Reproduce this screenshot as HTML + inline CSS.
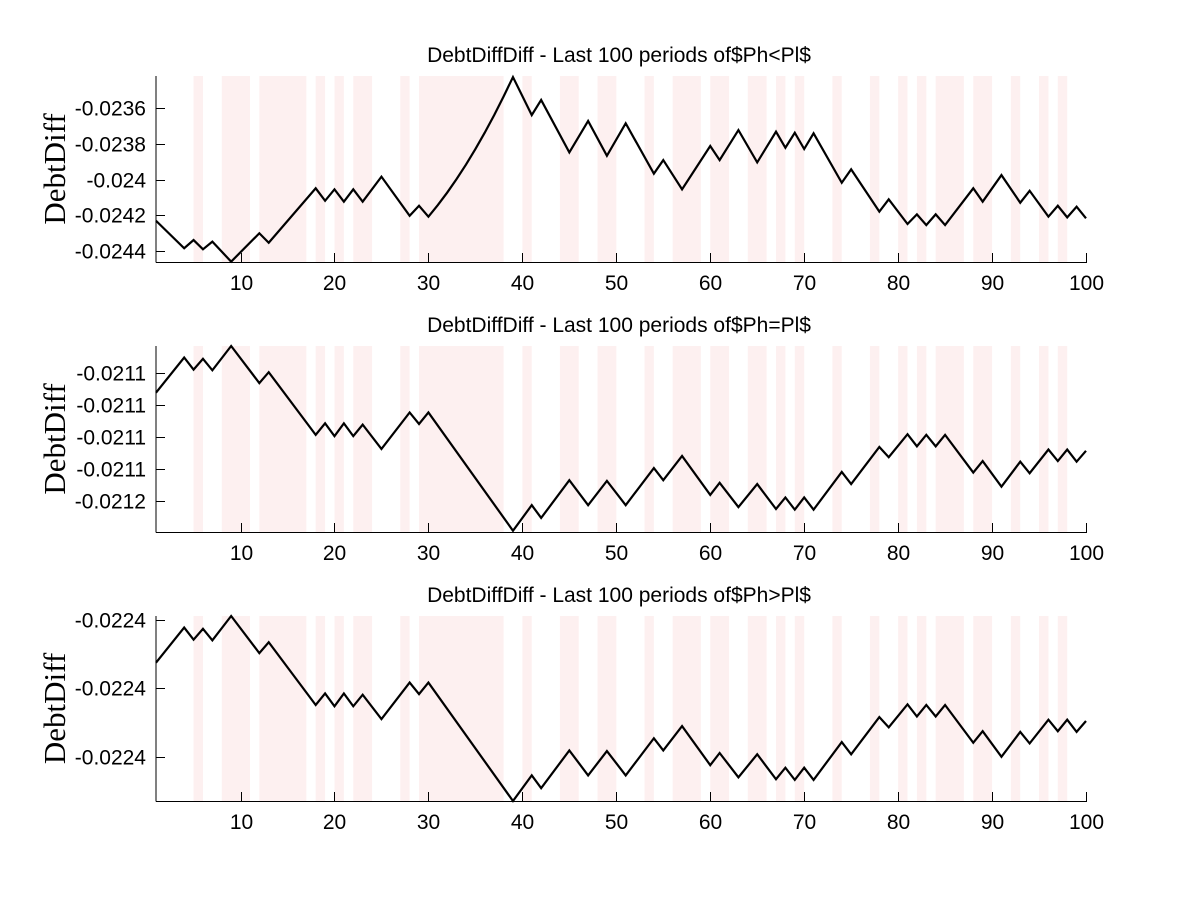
<!DOCTYPE html>
<html><head><meta charset="utf-8"><style>
html,body{margin:0;padding:0;background:#fff;}
svg{display:block;}
</style></head><body>
<svg id="chart" width="1200" height="900" viewBox="0 0 1200 900" xmlns="http://www.w3.org/2000/svg"></svg>
<script>
// Shaded band intervals (periods)
const bandStarts = [5,8,12,18,20,22,27,29,40,44,48,53,56,60,64,67,69,73,77,80,82,84,88,92,95,97];
const bandEnds   = [6,11,17,19,21,24,28,38,41,46,50,54,59,62,66,68,70,74,78,81,83,87,90,93,96,98];
const xTicks = [10,20,30,40,50,60,70,80,90,100];

// Top panel (Ph<Pl)
const topPeriods = [1,4,5,6,7,9,12,13,18,19,20,21,22,23,25,28,29,30,31,32,33,34,35,36,37,38,39,41,42,45,47,49,51,54,55,57,60,61,63,65,67,68,69,70,71,74,75,78,79,81,82,83,84,85,88,89,91,93,94,96,97,98,99,100];
const topValues = [-0.024230,-0.024384,-0.024338,-0.024390,-0.024347,-0.024459,-0.024300,-0.024353,-0.024048,-0.024118,-0.024054,-0.024123,-0.024054,-0.024123,-0.023983,-0.024202,-0.024146,-0.024207,-0.024142,-0.024072,-0.023996,-0.023915,-0.023828,-0.023736,-0.023638,-0.023534,-0.023425,-0.023638,-0.023553,-0.023847,-0.023671,-0.023866,-0.023684,-0.023966,-0.023890,-0.024054,-0.023811,-0.023890,-0.023722,-0.023903,-0.023731,-0.023821,-0.023737,-0.023828,-0.023740,-0.024017,-0.023942,-0.024179,-0.024110,-0.024248,-0.024194,-0.024254,-0.024194,-0.024254,-0.024048,-0.024123,-0.023974,-0.024129,-0.024062,-0.024207,-0.024146,-0.024211,-0.024151,-0.024216];
const topTickVals = [-0.0236,-0.0238,-0.0240,-0.0242,-0.0244];
const topTickLabels = ["-0.0236","-0.0238","-0.024","-0.0242","-0.0244"];

// Middle panel (Ph=Pl)
const midPeriods = [1,4,5,6,7,9,12,13,18,19,20,21,22,23,25,28,29,30,39,41,42,45,47,49,51,54,55,57,60,61,63,65,67,68,69,70,71,74,75,78,79,81,82,83,84,85,88,89,91,93,94,96,97,98,99,100];
const midValues = [-0.0211030,-0.0210975,-0.0210994,-0.0210977,-0.0210995,-0.0210957,-0.0211015,-0.0210998,-0.0211096,-0.0211078,-0.0211098,-0.0211078,-0.0211098,-0.0211080,-0.0211118,-0.0211061,-0.0211079,-0.0211061,-0.0211246,-0.0211206,-0.0211226,-0.0211167,-0.0211206,-0.0211168,-0.0211206,-0.0211148,-0.0211167,-0.0211129,-0.0211190,-0.0211171,-0.0211209,-0.0211173,-0.0211212,-0.0211194,-0.0211213,-0.0211194,-0.0211213,-0.0211154,-0.0211173,-0.0211115,-0.0211131,-0.0211095,-0.0211114,-0.0211096,-0.0211114,-0.0211096,-0.0211155,-0.0211137,-0.0211177,-0.0211138,-0.0211156,-0.0211119,-0.0211137,-0.0211119,-0.0211138,-0.0211121];
const midTickVals = [-0.021100,-0.021105,-0.021110,-0.021115,-0.021120];
const midTickLabels = ["-0.0211","-0.0211","-0.0211","-0.0211","-0.0212"];

// Bottom panel (Ph>Pl)
const botPeriods = [1,4,5,6,7,9,12,13,18,19,20,21,22,23,25,28,29,30,39,41,42,45,47,49,51,54,55,57,60,61,63,65,67,68,69,70,71,74,75,78,79,81,82,83,84,85,88,89,91,93,94,96,97,98,99,100];
const botValues = [-0.0224030,-0.0223975,-0.0223994,-0.0223977,-0.0223995,-0.0223957,-0.0224015,-0.0223998,-0.0224096,-0.0224078,-0.0224098,-0.0224078,-0.0224098,-0.0224080,-0.0224118,-0.0224061,-0.0224079,-0.0224061,-0.0224246,-0.0224206,-0.0224226,-0.0224167,-0.0224206,-0.0224168,-0.0224206,-0.0224148,-0.0224167,-0.0224129,-0.0224190,-0.0224171,-0.0224209,-0.0224173,-0.0224212,-0.0224194,-0.0224213,-0.0224194,-0.0224213,-0.0224154,-0.0224173,-0.0224115,-0.0224131,-0.0224095,-0.0224114,-0.0224096,-0.0224114,-0.0224096,-0.0224155,-0.0224137,-0.0224177,-0.0224138,-0.0224156,-0.0224119,-0.0224137,-0.0224119,-0.0224138,-0.0224121];
const botTickVals = [-0.0223963,-0.0224070,-0.0224178];
const botTickLabels = ["-0.0224","-0.0224","-0.0224"];

const NS = "http://www.w3.org/2000/svg";
const svg = document.getElementById('chart');
function mk(tag, attrs, parent){
  const e = document.createElementNS(NS, tag);
  for (const k in attrs) e.setAttribute(k, attrs[k]);
  (parent||svg).appendChild(e);
  return e;
}
const X0 = 156, X1 = 1086;
function xScale(p){ return X0 + (p-1)/(99)*(X1-X0); }
const SANS = 'Liberation Sans, Arial, sans-serif';

const panels = [
  {name:'top', title:'DebtDiffDiff - Last 100 periods of$Ph<Pl$', top:76, bottom:262, ymax:-0.023419, ymin:-0.024461, periods:topPeriods, values:topValues, tv:topTickVals, tl:topTickLabels},
  {name:'middle', title:'DebtDiffDiff - Last 100 periods of$Ph=Pl$', top:346, bottom:532, ymax:-0.0210957, ymin:-0.0211248, periods:midPeriods, values:midValues, tv:midTickVals, tl:midTickLabels},
  {name:'bottom', title:'DebtDiffDiff - Last 100 periods of$Ph>Pl$', top:616, bottom:801, ymax:-0.0223957, ymin:-0.0224246, periods:botPeriods, values:botValues, tv:botTickVals, tl:botTickLabels}
];

panels.forEach(P => {
  const g = mk('g', {});
  
  
  const yScale = v => P.bottom - (v - P.ymin)/(P.ymax - P.ymin)*(P.bottom - P.top);
  for (let i=0;i<bandStarts.length;i++){
    const r = mk('rect', {x:xScale(bandStarts[i]), y:P.top, width:xScale(bandEnds[i])-xScale(bandStarts[i]), height:P.bottom-P.top, fill:'#fdf0f0'}, g);
    
    
  }
  const pts = P.periods.map((p,i)=> xScale(p).toFixed(2)+','+yScale(P.values[i]).toFixed(2)).join(' ');
  const line = mk('polyline', {points:pts, fill:'none', stroke:'#000', 'stroke-width':2.2, 'stroke-linejoin':'miter'}, g);
  
  
  const ya = mk('line', {x1:X0, y1:P.top, x2:X0, y2:P.bottom+0.5, stroke:'#000', 'stroke-width':1}, g);
  
  
  const xa = mk('line', {x1:X0, y1:P.bottom+0.5, x2:X1+1, y2:P.bottom+0.5, stroke:'#000', 'stroke-width':1}, g);
  
  
  P.tv.forEach((v,i)=>{
    const y = Math.round(yScale(v))+0.5;
    const t = mk('line', {x1:X0, y1:y, x2:X0+9, y2:y, stroke:'#000', 'stroke-width':1}, g);
    
    
    const l = mk('text', {x:146, y:y+7, 'text-anchor':'end', 'font-family':SANS, 'font-size':21, fill:'#000'}, g);
    l.textContent = P.tl[i];
    
    
  });
  xTicks.forEach(v=>{
    const x = Math.round(xScale(v))+0.5;
    const t = mk('line', {x1:x, y1:P.bottom, x2:x, y2:P.bottom-9, stroke:'#000', 'stroke-width':1}, g);
    
    
    const l = mk('text', {x:x, y:P.bottom+28, 'text-anchor':'middle', 'font-family':SANS, 'font-size':21, fill:'#000'}, g);
    l.textContent = v;
    
    
  });
  const tt = mk('text', {x:619, y:P.top-14, 'text-anchor':'middle', 'font-family':SANS, 'font-size':21, fill:'#000'}, g);
  tt.textContent = P.title;
  
  
  const cy = (P.top+P.bottom)/2;
  const yl = mk('text', {x:0, y:0, transform:'translate(65,'+cy+') rotate(-90)', 'text-anchor':'middle', 'font-family':'Liberation Serif, Times New Roman, serif', 'font-size':31, fill:'#000'}, g);
  yl.textContent = 'DebtDiff';
  
  
});
</script>
</body></html>
